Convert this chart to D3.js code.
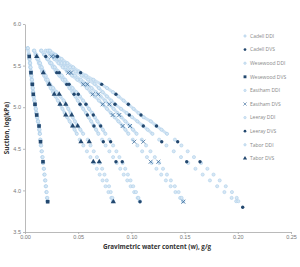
<!DOCTYPE html>
<html>
<head>
<meta charset="utf-8">
<title>Soil water retention: DDI vs DVS</title>
<style>
  body { margin: 0px; background: #fff; }
  svg { font-family: "Open Sans", "DejaVu Sans", sans-serif; }
  .axis path, .axis line { stroke: #a8a8a8; stroke-width: 0.8px; }
  .axis text { fill: #777; font-size: 5.5px; }
  .ddi { fill: #d6e7f4; stroke: #a4c8e6; stroke-width: 0.5px; }
  .band { fill: none; stroke: #cfe2f2; stroke-width: 3px; stroke-linecap: round; }
  .legend text { fill: #888; font-size: 5px; }
</style>
</head>
<body>
<svg width="300" height="267"></svg>
<script src="https://d3js.org/d3.v7.min.js"></script>
<script>
// ---- data ----
var soils = ["Cadell", "Wesewood", "Eastham", "Leeray", "Tabor"];
var xTicks = [0, 0.05, 0.10, 0.15, 0.20, 0.25];
var yTicks = [3.5, 4.0, 4.5, 5.0, 5.5, 6.0];

// DDI rows: [suction log(kPa), w replicate 1, w replicate 2]
var ddiCadell = [
  [5.68,0.0150,0.0155],[5.63,0.0179,0.0184],[5.58,0.0207,0.0216],[5.53,0.0235,0.0248],
  [5.48,0.0262,0.0280],[5.43,0.0290,0.0312],[5.38,0.0322,0.0345],[5.33,0.0355,0.0378],
  [5.28,0.0389,0.0411],[5.23,0.0418,0.0447],[5.18,0.0447,0.0483],[5.13,0.0473,0.0516],
  [5.08,0.0496,0.0546],[5.03,0.0520,0.0575],[4.98,0.0547,0.0602],[4.93,0.0573,0.0632],
  [4.88,0.0598,0.0656],[4.83,0.0622,0.0681],[4.78,0.0645,0.0708],[4.73,0.0668,0.0732],
  [4.68,0.0690,0.0756],[4.61,0.0724,0.0793],[4.54,0.0758,0.0828],[4.47,0.0793,0.0859],
  [4.40,0.0828,0.0887],[4.33,0.0862,0.0918],[4.26,0.0895,0.0942],[4.19,0.0928,0.0967],
  [4.12,0.0961,0.0992],[4.05,0.0993,0.1017],[3.98,0.1026,0.1043],[3.91,0.1059,0.1066],
  [3.87,0.1078,0.1080]
];
var ddiWesewood = [
  [5.71,0.0023,0.0027],[5.63,0.0035,0.0039],[5.58,0.0040,0.0044],[5.53,0.0045,0.0049],
  [5.48,0.0049,0.0053],[5.43,0.0053,0.0057],[5.38,0.0057,0.0061],[5.33,0.0062,0.0066],
  [5.28,0.0066,0.0070],[5.23,0.0070,0.0074],[5.18,0.0074,0.0078],[5.13,0.0079,0.0083],
  [5.08,0.0086,0.0090],[5.03,0.0092,0.0096],[4.98,0.0099,0.0103],[4.93,0.0105,0.0109],
  [4.88,0.0112,0.0116],[4.83,0.0120,0.0124],[4.78,0.0129,0.0133],[4.73,0.0133,0.0137],
  [4.68,0.0137,0.0141],[4.61,0.0142,0.0146],[4.54,0.0148,0.0152],[4.47,0.0155,0.0159],
  [4.40,0.0162,0.0166],[4.33,0.0168,0.0172],[4.26,0.0175,0.0179],[4.19,0.0181,0.0185],
  [4.12,0.0188,0.0192],[4.05,0.0194,0.0198],[3.98,0.0200,0.0204],[3.91,0.0206,0.0210],
  [3.87,0.0210,0.0214]
];
var ddiEastham = [
  [5.68,0.0195,0.0225],[5.63,0.0235,0.0266],[5.58,0.0275,0.0305],[5.53,0.0315,0.0344],
  [5.48,0.0355,0.0382],[5.43,0.0395,0.0420],[5.38,0.0442,0.0470],[5.33,0.0492,0.0525],
  [5.28,0.0543,0.0580],[5.23,0.0581,0.0626],[5.18,0.0617,0.0667],[5.13,0.0656,0.0711],
  [5.08,0.0695,0.0752],[5.03,0.0734,0.0796],[4.98,0.0771,0.0833],[4.93,0.0807,0.0869],
  [4.88,0.0843,0.0906],[4.83,0.0878,0.0944],[4.78,0.0914,0.0982],[4.73,0.0943,0.1015],
  [4.68,0.0972,0.1049],[4.61,0.1013,0.1098],[4.54,0.1056,0.1138],[4.47,0.1101,0.1179],
  [4.40,0.1146,0.1220],[4.33,0.1190,0.1261],[4.26,0.1235,0.1297],[4.19,0.1280,0.1334],
  [4.12,0.1324,0.1371],[4.05,0.1369,0.1408],[3.98,0.1414,0.1444],[3.91,0.1458,0.1472],
  [3.87,0.1484,0.1488]
];
var ddiLeeray = [
  [5.68,0.0215,0.0235],[5.63,0.0270,0.0289],[5.58,0.0321,0.0344],[5.53,0.0372,0.0399],
  [5.48,0.0423,0.0453],[5.43,0.0474,0.0507],[5.38,0.0532,0.0573],[5.33,0.0593,0.0643],
  [5.28,0.0654,0.0713],[5.23,0.0694,0.0771],[5.18,0.0731,0.0827],[5.13,0.0770,0.0879],
  [5.08,0.0810,0.0927],[5.03,0.0851,0.0975],[4.98,0.0903,0.1021],[4.93,0.0955,0.1067],
  [4.88,0.1006,0.1115],[4.83,0.1056,0.1183],[4.78,0.1106,0.1230],[4.73,0.1152,0.1283],
  [4.68,0.1198,0.1335],[4.61,0.1261,0.1409],[4.54,0.1329,0.1470],[4.47,0.1398,0.1529],
  [4.40,0.1466,0.1588],[4.33,0.1534,0.1655],[4.26,0.1602,0.1714],[4.19,0.1670,0.1772],
  [4.12,0.1738,0.1830],[4.05,0.1806,0.1887],[3.98,0.1874,0.1945],[3.91,0.1942,0.1990],
  [3.87,0.1985,0.2005]
];
var ddiTabor = [
  [5.68,0.0083,0.0088],[5.63,0.0099,0.0108],[5.58,0.0114,0.0125],[5.53,0.0130,0.0142],
  [5.48,0.0145,0.0158],[5.43,0.0160,0.0175],[5.38,0.0179,0.0194],[5.33,0.0198,0.0213],
  [5.28,0.0218,0.0233],[5.23,0.0241,0.0265],[5.18,0.0264,0.0298],[5.13,0.0286,0.0333],
  [5.08,0.0309,0.0363],[5.03,0.0331,0.0385],[4.98,0.0352,0.0407],[4.93,0.0373,0.0429],
  [4.88,0.0396,0.0448],[4.83,0.0420,0.0469],[4.78,0.0445,0.0493],[4.73,0.0466,0.0520],
  [4.68,0.0487,0.0547],[4.61,0.0514,0.0590],[4.54,0.0548,0.0616],[4.47,0.0582,0.0646],
  [4.40,0.0615,0.0676],[4.33,0.0648,0.0703],[4.26,0.0675,0.0725],[4.19,0.0702,0.0747],
  [4.12,0.0729,0.0769],[4.05,0.0757,0.0790],[3.98,0.0784,0.0806],[3.91,0.0811,0.0821],
  [3.87,0.0826,0.0829]
];

// DVS points: [w, suction log(kPa)]
var dvsCadell = [
  [0.0195,5.61],[0.0298,5.415],[0.0322,5.415],[0.0392,5.275],[0.0414,5.275],
  [0.0461,5.155],[0.0501,5.155],[0.0517,5.035],[0.0573,5.035],[0.0586,4.906],
  [0.0642,4.906],[0.0648,4.774],[0.0711,4.774],[0.0736,4.585],[0.0805,4.585],
  [0.0855,4.345],[0.0914,4.345],[0.1081,3.864]
];
var dvsWesewood = [
  [0.0040,5.61],[0.0056,5.415],[0.0069,5.275],[0.0078,5.155],[0.0094,5.035],
  [0.0110,4.906],[0.0132,4.774],[0.0146,4.585],[0.0169,4.345],[0.0213,3.864]
];
var dvsEastham = [
  [0.0251,5.61],[0.0282,5.61],[0.0407,5.415],[0.0432,5.415],[0.0548,5.275],
  [0.0586,5.275],[0.0636,5.155],[0.0689,5.155],[0.0730,5.035],[0.0792,5.035],
  [0.0824,4.906],[0.0886,4.906],[0.0918,4.774],[0.0987,4.774],[0.1027,4.585],
  [0.1112,4.585],[0.1181,4.345],[0.1253,4.345],[0.1488,3.864]
];
var dvsLeeray = [
  [0.0305,5.61],[0.0523,5.415],[0.0721,5.275],[0.0855,5.155],[0.0846,5.035],
  [0.0971,5.035],[0.0980,4.906],[0.1090,4.906],[0.1112,4.774],[0.1236,4.774],
  [0.1285,4.585],[0.1435,4.585],[0.1520,4.345],[0.1645,4.345],[0.2046,3.797]
];
var dvsTabor = [
  [0.0110,5.61],[0.0172,5.415],[0.0228,5.275],[0.0275,5.155],[0.0322,5.155],
  [0.0329,5.035],[0.0383,5.035],[0.0383,4.906],[0.0439,4.906],[0.0448,4.774],
  [0.0495,4.774],[0.0526,4.585],[0.0604,4.585],[0.0642,4.345],[0.0698,4.345],
  [0.0830,3.864]
];

var ddiData = [ddiCadell, ddiWesewood, ddiEastham, ddiLeeray, ddiTabor];
var dvsData = [dvsCadell, dvsWesewood, dvsEastham, dvsLeeray, dvsTabor];
var dvsShapes = ["circle", "square", "cross", "circle", "triangle"];

// ---- chart ----
var svg = d3.select("svg");
var x = d3.scaleLinear().domain([0, 0.25]).range([25, 291]);
var y = d3.scaleLinear().domain([3.5, 6.0]).range([232, 24]);

svg.append("g")
  .attr("class", "axis")
  .attr("transform", "translate(0," + y(3.5) + ")")
  .call(d3.axisBottom(x).tickValues(xTicks).tickFormat(d3.format(".2f"))
    .tickSizeInner(2).tickSizeOuter(0).tickPadding(1.5));

svg.append("g")
  .attr("class", "axis")
  .attr("transform", "translate(" + x(0) + ",0)")
  .call(d3.axisLeft(y).tickValues(yTicks).tickFormat(d3.format(".1f"))
    .tickSizeInner(2).tickSizeOuter(0).tickPadding(2));

svg.append("text")
  .attr("x", 157)
  .attr("y", 249)
  .attr("text-anchor", "middle")
  .attr("font-size", "6.3px")
  .attr("font-weight", "bold")
  .attr("fill", "#333")
  .text("Gravimetric water content (w), g/g");

svg.append("text")
  .attr("transform", "translate(9," + y(4.75) + ") rotate(-90)")
  .attr("text-anchor", "middle")
  .attr("font-size", "6.3px")
  .attr("font-weight", "bold")
  .attr("fill", "#333")
  .text("Suction, log(kPa)");

// DDI: dense upper part reads as a light band, then the points on top
ddiData.forEach(function(rows) {
  var upper = rows.filter(function(r) { return r[0] >= 4.66; });
  [1, 2].forEach(function(k) {
    svg.append("path")
      .attr("class", "band")
      .attr("d", d3.line()
        .x(function(r) { return x(r[k]); })
        .y(function(r) { return y(r[0]); })(upper));
  });
});

ddiData.forEach(function(rows) {
  var pts = [];
  rows.forEach(function(r) { pts.push([r[1], r[0]]); pts.push([r[2], r[0]]); });
  svg.append("g").selectAll("circle")
    .data(pts)
    .enter()
    .append("circle")
    .attr("class", "ddi")
    .attr("cx", function(d) { return x(d[0]); })
    .attr("cy", function(d) { return y(d[1]); })
    .attr("r", 1.6);
});

function drawSymbol(sel, shape) {
  if (shape == "cross") {
    sel.append("path")
      .attr("d", "M-2,-2L2,2M-2,2L2,-2")
      .attr("stroke", "#3e6d9c")
      .attr("stroke-width", 0.8)
      .attr("fill", "none");
  } else {
    var type = { circle: d3.symbolCircle, square: d3.symbolSquare, triangle: d3.symbolTriangle }[shape];
    var size = { circle: 9, square: 13, triangle: 12 }[shape];
    sel.append("path")
      .attr("d", d3.symbol().type(type).size(size)())
      .attr("fill", "#23486f");
  }
}

// DVS points
dvsData.forEach(function(pts, i) {
  var g = svg.append("g").selectAll("g")
    .data(pts)
    .enter()
    .append("g")
    .attr("transform", function(d) { return "translate(" + x(d[0]) + "," + y(d[1]) + ")"; });
  drawSymbol(g, dvsShapes[i]);
});

// legend
var legend = svg.append("g").attr("class", "legend");
soils.forEach(function(s, i) {
  var y0 = 36 + i * 2 * 13.6;
  var a = legend.append("g").attr("transform", "translate(245," + y0 + ")");
  a.append("circle").attr("class", "ddi").attr("r", 1.2);
  a.append("text").attr("x", 5).attr("dy", "0.35em").text(s + " DDI");
  var b = legend.append("g").attr("transform", "translate(245," + (y0 + 13.6) + ")");
  drawSymbol(b, dvsShapes[i]);
  b.select("path").attr("transform", "scale(0.8)");
  b.append("text").attr("x", 5).attr("dy", "0.35em").text(s + " DVS");
});
</script>
</body>
</html>
